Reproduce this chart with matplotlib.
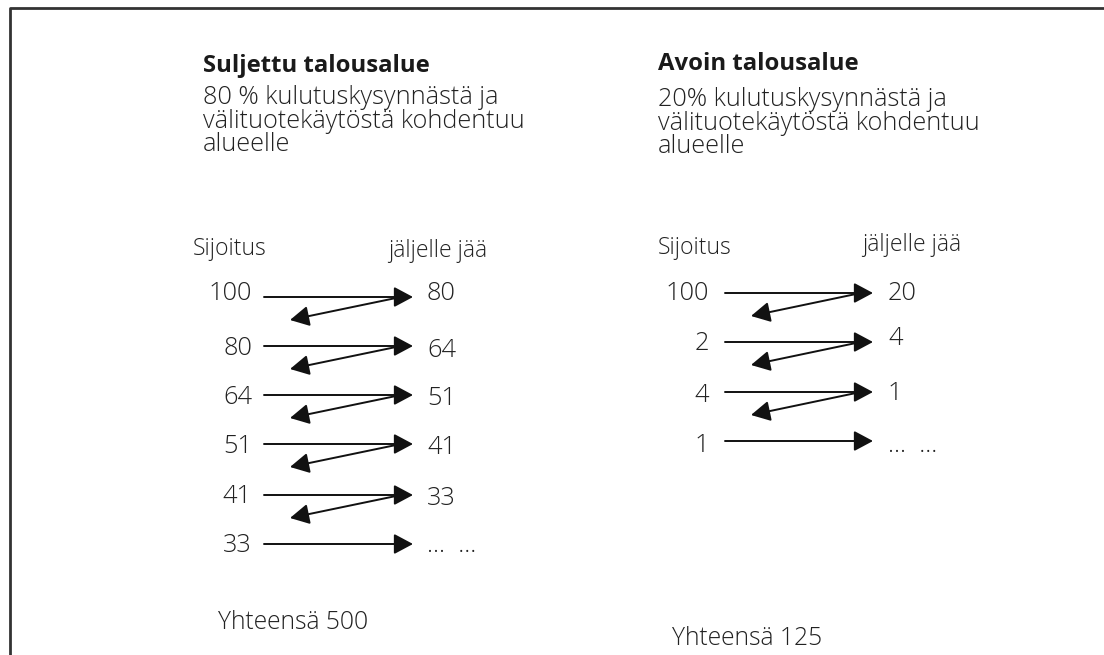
import matplotlib
matplotlib.use("Agg")
import matplotlib.pyplot as plt

plt.rcParams['font.family'] = ['Open Sans', 'DejaVu Sans']

# ---- data ----
left_title = "Suljettu talousalue"
left_body = ["80 % kulutuskysynnästä ja", "välituotekäytöstä kohdentuu", "alueelle"]
left_invest = ["100", "80", "64", "51", "41", "33"]
left_remain = ["80", "64", "51", "41", "33", "…  …"]
left_total = "Yhteensä 500"

right_title = "Avoin talousalue"
right_body = ["20% kulutuskysynnästä ja", "välituotekäytöstä kohdentuu", "alueelle"]
right_invest = ["100", "2", "4", "1"]
right_remain = ["20", "4", "1", "…  …"]
right_total = "Yhteensä 125"

col_invest = "Sijoitus"
col_remain = "jäljelle jää"

W, H = 1104, 655
fig = plt.figure(figsize=(W / 100, H / 100), dpi=100)
ax = fig.add_axes([0, 0, 1, 1])
ax.set_xlim(0, W)
ax.set_ylim(H, 0)
ax.axis('off')

# frame (top and left edges visible)
ax.plot([9.5, 9.5, W + 5], [H + 5, 7.5, 7.5], color='#333333', lw=2.0, solid_capstyle='butt')

TXT = '#222222'
LW = 'light'
ARR = dict(arrowstyle='-|>,head_length=0.58,head_width=0.31',
           color='#111111', lw=1.4, mutation_scale=20, shrinkA=0, shrinkB=0)


def panel(x0, title_base, body_base, title, body, invest, remain, total,
          num_x, arr_x0, arr_x1, rem_x, hdr_inv, hdr_rem, arrow_y,
          inv_base, rem_base, total_pos):
    ax.text(x0, title_base, title, fontsize=17.2, fontweight='bold', color='#1a1a1a',
            va='baseline', ha='left')
    for i, line in enumerate(body):
        ax.text(x0, body_base + 23.5 * i, line, fontsize=18.2, color=TXT,
                fontweight=LW, va='baseline', ha='left')
    ax.text(hdr_inv[0], hdr_inv[1], col_invest, fontsize=16.6, color=TXT,
            fontweight=LW, va='baseline', ha='left')
    ax.text(hdr_rem[0], hdr_rem[1], col_remain, fontsize=16.6, color=TXT,
            fontweight=LW, va='baseline', ha='left')
    n = len(invest)
    for i in range(n):
        y = arrow_y[i]
        ax.text(num_x, inv_base[i], invest[i], fontsize=18.3, color=TXT,
                fontweight=LW, va='baseline', ha='right')
        ax.text(rem_x, rem_base[i], remain[i], fontsize=18.3, color=TXT,
                fontweight=LW, va='baseline', ha='left')
        ax.annotate('', xy=(arr_x1, y), xytext=(arr_x0, y), arrowprops=ARR)
        if i < n - 1:
            ax.annotate('', xy=(arr_x0 + 26, y + 23), xytext=(arr_x1 - 17, y + 1),
                        arrowprops=ARR)
    ax.text(total_pos[0], total_pos[1], total, fontsize=17.7, color=TXT,
            fontweight=LW, va='baseline', ha='left')


panel(203, 72, 104, left_title, left_body, left_invest, left_remain, left_total,
      num_x=252, arr_x0=264, arr_x1=413, rem_x=427,
      hdr_inv=(193, 255), hdr_rem=(388, 257),
      arrow_y=[297, 346, 395, 444, 495, 544],
      inv_base=[300, 355, 404, 453, 503, 552],
      rem_base=[300, 357, 405, 454, 505, 552],
      total_pos=(218, 629))

panel(658, 70, 106, right_title, right_body, right_invest, right_remain, right_total,
      num_x=709, arr_x0=725, arr_x1=873, rem_x=888,
      hdr_inv=(658, 254), hdr_rem=(862, 251),
      arrow_y=[293, 342, 392, 441],
      inv_base=[300, 350, 402, 452],
      rem_base=[300, 345, 400, 452],
      total_pos=(672, 645))

fig.savefig('out.png', dpi=100, facecolor='white')
